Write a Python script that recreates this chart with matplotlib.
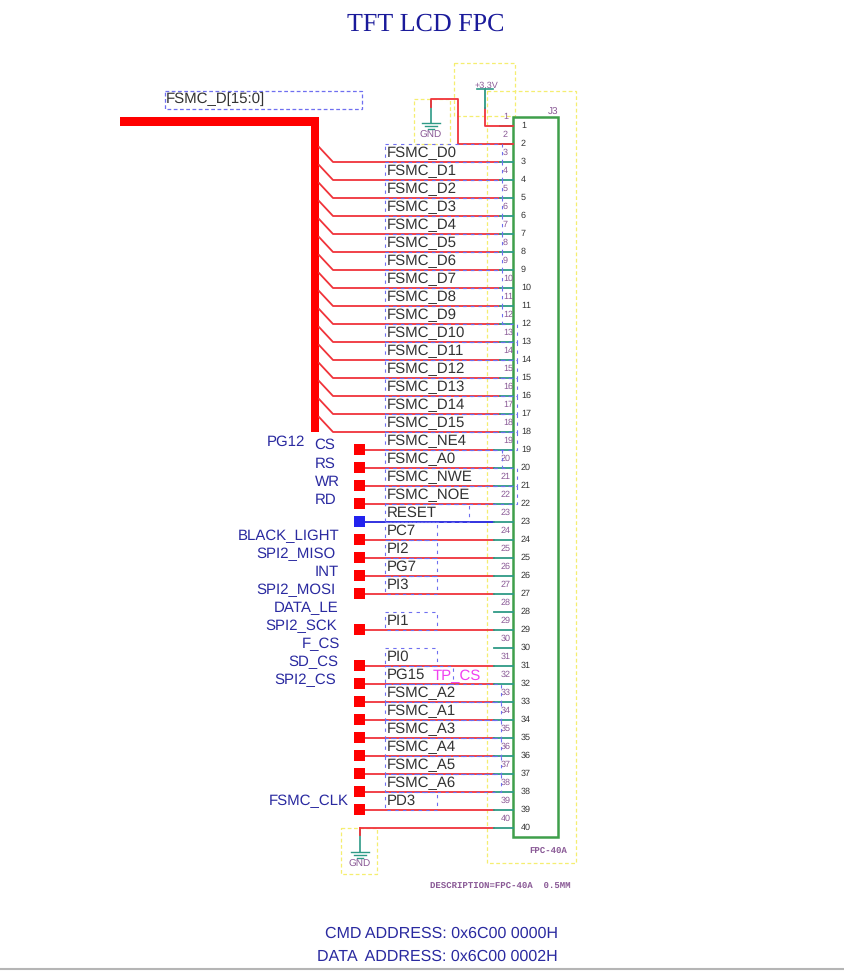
import matplotlib
matplotlib.use('Agg')
import matplotlib.pyplot as plt
from matplotlib.patches import Rectangle

plt.rcParams['font.family'] = ['Liberation Sans', 'DejaVu Sans']
plt.rcParams['text.hinting'] = 'no_hinting'
plt.rcParams['text.hinting_factor'] = 1

# net name on each connector pin, right box edge given by box_right
pin_nets = {
    3: 'FSMC_D0', 4: 'FSMC_D1', 5: 'FSMC_D2', 6: 'FSMC_D3', 7: 'FSMC_D4', 8: 'FSMC_D5',
    9: 'FSMC_D6', 10: 'FSMC_D7', 11: 'FSMC_D8', 12: 'FSMC_D9', 13: 'FSMC_D10', 14: 'FSMC_D11',
    15: 'FSMC_D12', 16: 'FSMC_D13', 17: 'FSMC_D14', 18: 'FSMC_D15', 19: 'FSMC_NE4', 20: 'FSMC_A0',
    21: 'FSMC_NWE', 22: 'FSMC_NOE', 23: 'RESET', 24: 'PC7', 25: 'PI2', 26: 'PG7', 27: 'PI3',
    29: 'PI1', 31: 'PI0', 32: 'PG15', 33: 'FSMC_A2', 34: 'FSMC_A1', 35: 'FSMC_A3', 36: 'FSMC_A4',
    37: 'FSMC_A5', 38: 'FSMC_A6', 39: 'PD3',
}
box_right = {
    3: 502, 4: 502, 5: 502, 6: 502, 7: 502, 8: 502, 9: 502, 10: 502, 11: 502, 12: 502,
    13: 517, 14: 517, 15: 517, 16: 517, 17: 517, 18: 517, 19: 517, 20: 502, 21: 517, 22: 517,
    23: 469, 24: 437, 25: 437, 26: 437, 27: 437, 29: 437, 31: 437, 32: 453,
    33: 501, 34: 501, 35: 501, 36: 501, 37: 501, 38: 501, 39: 437,
}
bus_pins = list(range(3, 19))
square_pins = [19, 20, 21, 22, 23, 24, 25, 26, 27, 29, 31, 32, 33, 34, 35, 36, 37, 38, 39]
blue_pins = [23]

# function labels left of the squares: text, left x, centre y
func_labels = ['PG12', 'CS', 'RS', 'WR', 'RD', 'BLACK_LIGHT', 'SPI2_MISO', 'INT', 'SPI2_MOSI',
               'DATA_LE', 'SPI2_SCK', 'F_CS', 'SD_CS', 'SPI2_CS', 'FSMC_CLK']
func_x = [267, 314, 315, 315, 315, 238, 256, 315, 256, 274, 265, 302, 288, 274, 269]
func_y = [442, 445, 464, 482, 500, 536, 554, 572, 590, 608, 626, 644, 662, 680, 801]

yellow_boxes = [(454, 63, 515, 116), (487, 91, 576, 863), (414, 99, 450, 144), (341, 828, 377, 874)]

RED = '#f0333a'
TEAL = '#2e9a86'
GREEN = '#3f9f4a'
BOXBLUE = '#6f6ff0'
NAVY = '#2a2aa0'
PURPLE = '#8a5a96'


def pin_y(n):
    return 126 + (n - 1) * 18


def ground(ax, x, y):
    ax.plot([x, x], [y, y + 22], color=TEAL, lw=1.2)
    for half, dy in ((9, 22), (6, 25), (3, 28)):
        ax.plot([x - half, x + half], [y + dy, y + dy], color=TEAL, lw=1)
    ax.text(x, y + 34, 'GND', fontsize=7, color=PURPLE, ha='center', va='center')


fig = plt.figure(figsize=(8.45, 9.71), dpi=100)
ax = fig.add_axes([0, 0, 1, 1])
ax.set_xlim(0, 845)
ax.set_ylim(971, 0)
ax.axis('off')

ax.text(426, 24, 'TFT LCD FPC', fontsize=18.8, family='Liberation Serif', color='#1a1a9a',
        ha='center', va='center')

for x0, y0, x1, y1 in yellow_boxes:
    ax.add_patch(Rectangle((x0, y0), x1 - x0, y1 - y0, fill=False, ec='#f5ee70', lw=0.9, ls=(0, (3, 2))))

# bus
ax.add_patch(Rectangle((120, 117), 199, 9, color='#ff0000', lw=0))
ax.add_patch(Rectangle((311, 117), 8, 315, color='#ff0000', lw=0))
ax.add_patch(Rectangle((165, 91), 197, 18, fill=False, ec=BOXBLUE, lw=0.9, ls=(0, (3, 2))))
ax.text(166, 99, 'FSMC_D[15:0]', fontsize=10.9, color='#333333', va='center')

# wires and stubs
for n in range(1, 41):
    y = pin_y(n)
    stub_from = 500 if n < 19 else 494
    if n in bus_pins:
        ax.plot([319, 333, stub_from], [y - 15, y, y], color=RED, lw=1.3)
    elif n in square_pins:
        ax.plot([360, stub_from], [y, y], color='#2222dd' if n in blue_pins else RED, lw=1.3)
    elif n == 40:
        ax.plot([360, stub_from], [y, y], color=RED, lw=1.3)
    ax.plot([stub_from, 513], [y, y], color=TEAL, lw=1.3)
    ax.text(508 if 10 <= n <= 19 else 505.5, y - 9, str(n), fontsize=6.3, color=PURPLE, ha='center', va='center')
    ax.text(521, y, str(n), fontsize=6.5, color='#333333', va='center')

for n in square_pins:
    y = pin_y(n)
    ax.add_patch(Rectangle((354, y - 5.5), 11, 11, color='#2222ee' if n in blue_pins else '#ff0000', lw=0, zorder=3))
ax.add_patch(Rectangle((354, pin_y(38) - 5.5), 11, 11, color='#ff0000', lw=0, zorder=3))

# net labels, dashes wide enough to let the red wire show through
for n, name in pin_nets.items():
    y = pin_y(n)
    ax.add_patch(Rectangle((385, y - 18), box_right[n] - 385, 18, fill=False, ec=BOXBLUE, lw=0.8,
                           ls=(0, (3, 4)), zorder=3))
    ax.text(387, y - 9, name, fontsize=10.8, color='#333333', va='center')

for label, x, y in zip(func_labels, func_x, func_y):
    ax.text(x, y, label, fontsize=10.8, color=NAVY, va='center')

ax.text(433, 676, 'TP_CS', fontsize=10.8, color='#f040f0', va='center')

# power and ground
ax.plot([485, 485, 513], [108, 126, 126], color=RED, lw=1.3)
ax.plot([485, 485], [89, 108], color=TEAL, lw=1.3)
ax.plot([477, 493], [89, 89], color=TEAL, lw=1.2)
ax.text(486, 86, '+3.3V', fontsize=6.5, color=PURPLE, ha='center', va='center')
ground(ax, 431, 101)
ax.plot([431, 431, 458, 458, 513], [107, 99, 99, 144, 144], color=RED, lw=1.3)
ground(ax, 360, 830)
ax.plot([360, 360], [828, 835], color=RED, lw=1.3)

# connector body
ax.add_patch(Rectangle((513, 117), 45, 720, fill=False, ec=GREEN, lw=1.8))
ax.text(553, 112, 'J3', fontsize=7, color=PURPLE, ha='center', va='center')
ax.text(548, 851, 'FPC-40A', fontsize=6.2, family='Liberation Mono', weight='bold', color=PURPLE,
        ha='center', va='center')
ax.text(430, 886, 'DESCRIPTION=FPC-40A  0.5MM', fontsize=6.2, family='Liberation Mono', weight='bold',
        color=PURPLE, va='center')

ax.text(558, 934, 'CMD ADDRESS: 0x6C00 0000H', fontsize=11.5, color=NAVY, ha='right', va='center')
ax.text(558, 957, 'DATA  ADDRESS: 0x6C00 0002H', fontsize=11.5, color=NAVY, ha='right', va='center')
ax.plot([0, 845], [969.5, 969.5], color='#b5b5b5', lw=1.5)

fig.savefig('out.png', dpi=100)
